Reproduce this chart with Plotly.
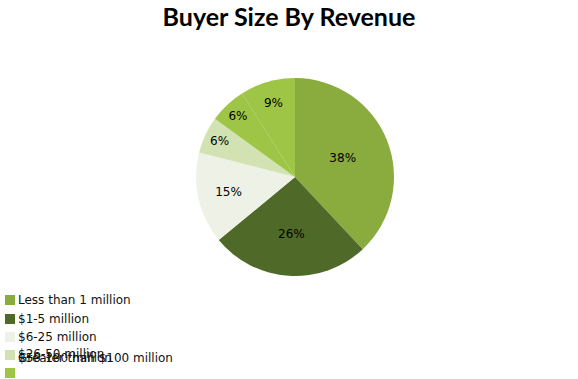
import plotly.graph_objects as go

categories = ["Less than 1 million", "$1-5 million", "$6-25 million",
              "$26-50 million", "$50-100 million", "Greater than $100 million"]
values = [38, 26, 15, 6, 6, 9]
colors = ["#8aab3e", "#4f6a28", "#eef2e6", "#d3e2b2", "#9ec545", "#9ec545"]

W, H = 578, 379
cx, cy, r = 295, 177, 99

fig = go.Figure(go.Pie(
    labels=categories, values=values, sort=False, direction="clockwise",
    rotation=0, marker=dict(colors=colors, line=dict(width=0)),
    textinfo="percent", textposition="inside", insidetextorientation="horizontal",
    textfont=dict(family="DejaVu Sans, sans-serif", size=12, color="black"),
    domain=dict(x=[(cx - r) / W, (cx + r) / W], y=[1 - (cy + r) / H, 1 - (cy - r) / H]),
    showlegend=False, hoverinfo="label+percent",
))

# Manual legend replicating the reference layout (rows overlap at the bottom)
box_rows = [300, 319, 337, 355, 373, 373]
text_rows = [300, 319, 337, 354, 358, 358]
shapes, annotations = [], []
for i, cat in enumerate(categories):
    y = box_rows[i]
    shapes.append(dict(type="rect", xref="paper", yref="paper",
                       x0=5 / W, x1=15 / W, y0=1 - (y + 5) / H, y1=1 - (y - 5) / H,
                       fillcolor=colors[i], line=dict(width=0)))
    annotations.append(dict(text=cat, xref="paper", yref="paper", x=16 / W,
                            y=1 - text_rows[i] / H,
                            xanchor="left", yanchor="middle", showarrow=False,
                            font=dict(family="DejaVu Sans, sans-serif", size=12, color="#111")))

fig.update_layout(
    width=W, height=H, margin=dict(l=0, r=0, t=0, b=0),
    paper_bgcolor="white", plot_bgcolor="white",
    title=dict(text="<b>Buyer Size By Revenue</b>", x=289 / W, xanchor="center",
               y=1 - 17 / H, yanchor="middle",
               font=dict(family="Lato, Open Sans, sans-serif", size=25, color="black")),
    shapes=shapes, annotations=annotations,
)

fig.write_html("out.html", config={"displayModeBar": False},
               post_script="document.body.style.margin='0';document.body.style.padding='0';")
